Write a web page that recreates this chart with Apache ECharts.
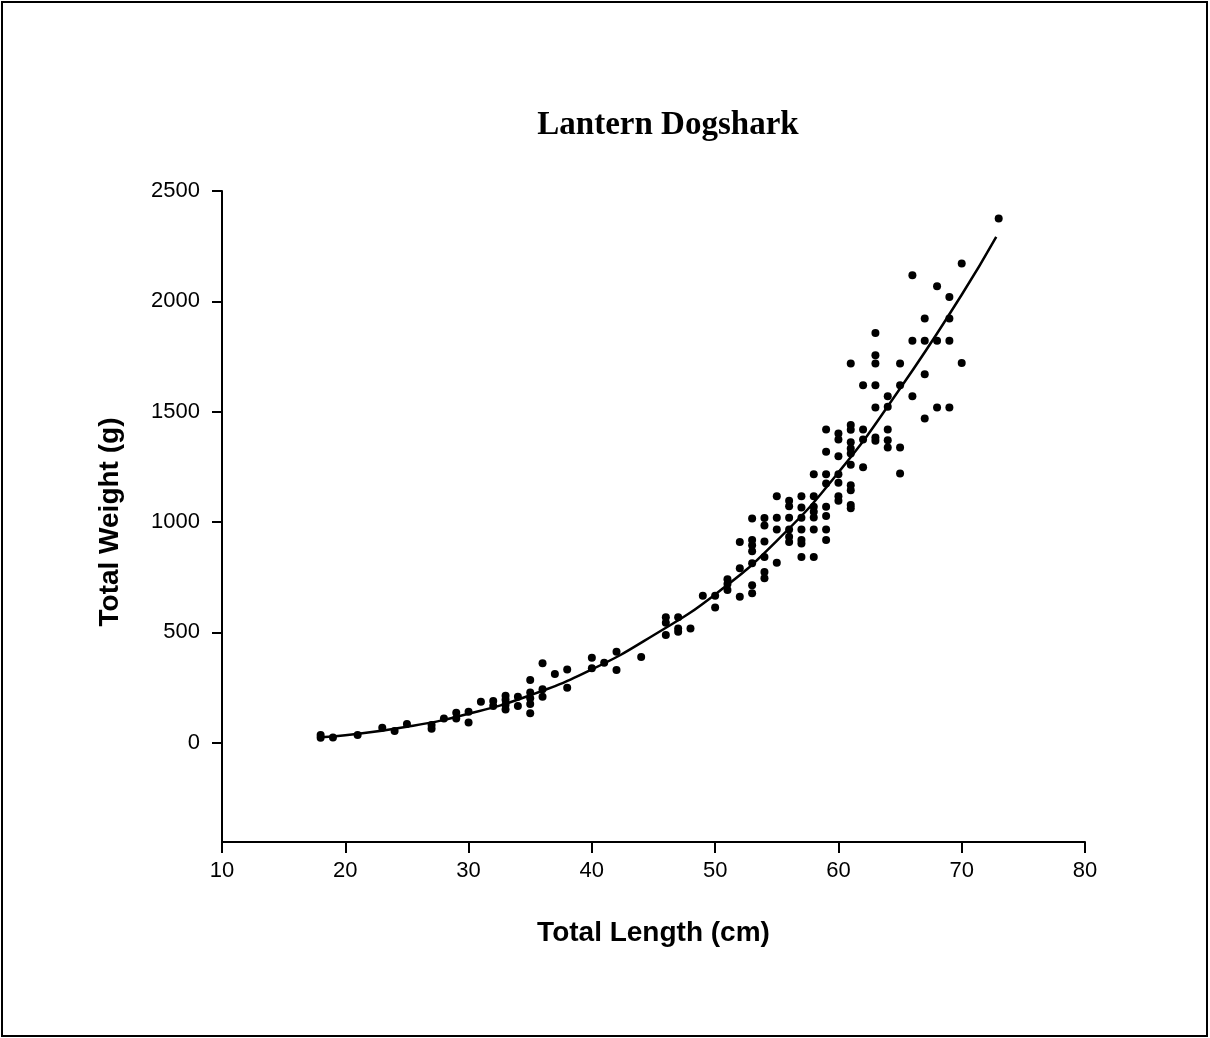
<!DOCTYPE html>
<html>
<head>
<meta charset="utf-8">
<title>Lantern Dogshark</title>
<script src="https://cdn.jsdelivr.net/npm/echarts@6/dist/echarts.min.js"></script>
<style>
  html, body { margin: 0; padding: 0; background: #ffffff; }
  #chart { width: 1210px; height: 1038px; }
</style>
</head>
<body>
<div id="chart"></div>
<script>
// Length-weight relationship, Lantern Dogshark
const chartTitle = 'Lantern Dogshark';
const xAxisTitle = 'Total Length (cm)';
const yAxisTitle = 'Total Weight (g)';

const xTicks = [10, 20, 30, 40, 50, 60, 70, 80];
const yTicks = [0, 500, 1000, 1500, 2000, 2500];
const yFloor = -450; // weight axis runs a little below zero

// individual fish: [total length (cm), total weight (g)]
const specimens = [
  [18, 35], [18, 22], [19, 24], [21, 35], [23, 68], [24, 53], [25, 85],
  [27, 80], [27, 63], [28, 110], [29, 136], [29, 110], [30, 140], [30, 91],
  [31, 186], [32, 189], [32, 166], [33, 213], [33, 195], [33, 172], [33, 150],
  [34, 208], [34, 166], [35, 284], [35, 227], [35, 201], [35, 175], [35, 133],
  [36, 360], [36, 242], [36, 208], [37, 311], [38, 332], [38, 249],
  [40, 385], [40, 337], [41, 362], [42, 412], [42, 329], [44, 388],
  [46, 568], [46, 543], [46, 488], [47, 568], [47, 518], [47, 503], [48, 518],
  [49, 666], [50, 666], [50, 613], [51, 741], [51, 719], [51, 692],
  [52, 910], [52, 790], [52, 661],
  [53, 1016], [53, 918], [53, 895], [53, 868], [53, 813], [53, 714], [53, 677],
  [54, 1018], [54, 984], [54, 912], [54, 841], [54, 774], [54, 745],
  [55, 1117], [55, 1019], [55, 966], [55, 815],
  [56, 1096], [56, 1072], [56, 1019], [56, 966], [56, 933], [56, 910],
  [57, 1117], [57, 1066], [57, 1019], [57, 966], [57, 918], [57, 903], [57, 842],
  [58, 1216], [58, 1117], [58, 1069], [58, 1046], [58, 1021], [58, 966], [58, 842],
  [59, 1419], [59, 1318], [59, 1216], [59, 1175], [59, 1069], [59, 1027], [59, 966], [59, 918],
  [60, 1401], [60, 1374], [60, 1298], [60, 1216], [60, 1178], [60, 1117], [60, 1096],
  [61, 1718], [61, 1440], [61, 1418], [61, 1361], [61, 1333], [61, 1311], [61, 1260],
  [61, 1167], [61, 1144], [61, 1077], [61, 1062],
  [62, 1620], [62, 1419], [62, 1374], [62, 1248],
  [63, 1857], [63, 1756], [63, 1718], [63, 1620], [63, 1519], [63, 1383], [63, 1368],
  [64, 1570], [64, 1522], [64, 1419], [64, 1371], [64, 1338],
  [65, 1718], [65, 1620], [65, 1338], [65, 1220],
  [66, 2118], [66, 1821], [66, 1570],
  [67, 1922], [67, 1821], [67, 1670], [67, 1469],
  [68, 2068], [68, 1821], [68, 1519],
  [69, 2020], [69, 1922], [69, 1821], [69, 1519],
  [70, 2171], [70, 1721],
  [73, 2375]
];

// fitted length-weight curve
const fitLength = [18, 20, 25, 30, 35, 40, 45, 50, 55, 60, 65, 70, 72.8];
const fitWeight = [25, 34, 72, 131, 215, 332, 487, 672, 915, 1225, 1605, 2030, 2292];

const chart = echarts.init(document.getElementById('chart'), null, { renderer: 'canvas' });

const axisLineStyle = { color: '#000', width: 2 };
const tickFont = { color: '#000', fontFamily: 'Liberation Sans, Arial, sans-serif', fontSize: 22 };
const nameFont = { color: '#000', fontFamily: 'Liberation Sans, Arial, sans-serif', fontSize: 28, fontWeight: 'bold' };

chart.setOption({
  backgroundColor: '#ffffff',
  animation: false,
  title: {
    text: chartTitle,
    left: 663,
    top: 104,
    textAlign: 'center',
    textStyle: {
      color: '#000',
      fontFamily: 'Liberation Serif, Times New Roman, serif',
      fontWeight: 'bold',
      fontSize: 33
    }
  },
  graphic: [{
    type: 'rect',
    shape: { x: 2, y: 2, width: 1205, height: 1034 },
    style: { fill: 'none', stroke: '#000', lineWidth: 2 },
    silent: true
  }],
  grid: { left: 222, right: 125, top: 191, bottom: 196, containLabel: false },
  xAxis: {
    type: 'value',
    min: xTicks[0],
    max: xTicks[xTicks.length - 1],
    interval: xTicks[1] - xTicks[0],
    name: xAxisTitle,
    nameLocation: 'middle',
    nameGap: 77,
    nameTextStyle: nameFont,
    axisLine: { show: true, onZero: false, lineStyle: axisLineStyle },
    axisTick: { show: true, inside: false, length: 11, lineStyle: axisLineStyle },
    axisLabel: Object.assign({ margin: 18 }, tickFont),
    splitLine: { show: false }
  },
  yAxis: {
    type: 'value',
    min: yFloor,
    max: yTicks[yTicks.length - 1],
    name: yAxisTitle,
    nameLocation: 'middle',
    nameGap: 98,
    nameTextStyle: Object.assign({ padding: [0, 11, 0, 0] }, nameFont),
    axisLine: { show: true, onZero: false, lineStyle: axisLineStyle },
    axisTick: { show: true, inside: false, length: 10, customValues: yTicks, lineStyle: axisLineStyle },
    axisLabel: Object.assign({
      margin: 22,
      customValues: yTicks,
      formatter: function (v) { return String(v); }
    }, tickFont),
    splitLine: { show: false }
  },
  series: [
    {
      type: 'scatter',
      data: specimens,
      symbol: 'circle',
      symbolSize: 8,
      itemStyle: { color: '#000', opacity: 1 },
      z: 3
    },
    {
      type: 'line',
      data: fitLength.map(function (l, i) { return [l, fitWeight[i]]; }),
      smooth: true,
      showSymbol: false,
      lineStyle: { color: '#000', width: 2.5 },
      z: 2
    }
  ]
});
</script>
</body>
</html>
